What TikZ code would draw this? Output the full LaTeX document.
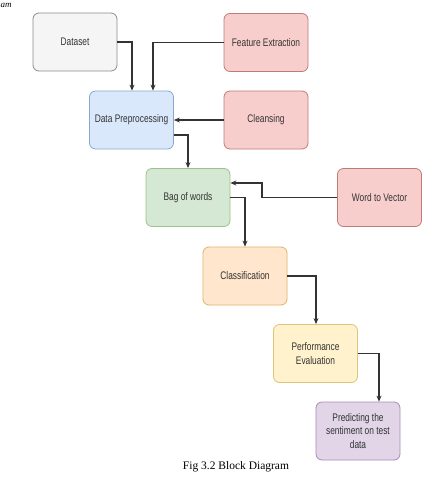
\documentclass[tikz,border=0pt]{standalone}
\usepackage{fontspec}
\setmainfont{Liberation Serif}
\newfontfamily\boxfont[FakeStretch=0.76]{Liberation Sans}
\usetikzlibrary{arrows.meta}
\definecolor{txt}{HTML}{333333}
\definecolor{grayF}{HTML}{F5F5F5}\definecolor{grayD}{HTML}{8C8C8C}
\definecolor{redF}{HTML}{F8CECC}\definecolor{redD}{HTML}{C07A77}
\definecolor{blueF}{HTML}{DAE8FC}\definecolor{blueD}{HTML}{8AA6CF}
\definecolor{greenF}{HTML}{D5E8D4}\definecolor{greenD}{HTML}{9CC28A}
\definecolor{orangeF}{HTML}{FFE6CC}\definecolor{orangeD}{HTML}{E0B466}
\definecolor{yellowF}{HTML}{FFF2CC}\definecolor{yellowD}{HTML}{DCC47A}
\definecolor{purpleF}{HTML}{E1D5E7}\definecolor{purpleD}{HTML}{A98BB8}
\tikzset{
  blk/.style={draw, line width=0.8pt, rounded corners=6pt, minimum width=84pt, minimum height=58pt,
    align=center, inner sep=0pt, text=txt,
    font=\boxfont\fontsize{11}{13.5}\selectfont},
  gbox/.style={blk, fill=grayF, draw=grayD},
  rbox/.style={blk, fill=redF, draw=redD},
  bbox/.style={blk, fill=blueF, draw=blueD},
  gnbox/.style={blk, fill=greenF, draw=greenD},
  obox/.style={blk, fill=orangeF, draw=orangeD},
  ybox/.style={blk, fill=yellowF, draw=yellowD},
  pbox/.style={blk, fill=purpleF, draw=purpleD},
  arr/.style={draw=black!80, line width=1.1pt, -{Stealth[length=6pt,width=5pt]}}
}
\begin{document}
\begin{tikzpicture}[x=1pt,y=-1pt]
\useasboundingbox (0,0) rectangle (442,480);
\fill[white] (0,0) rectangle (442,480);
\node[anchor=base west, font=\itshape\fontsize{9}{11}\selectfont, inner sep=0pt] (tl) at (0.5,7) {am};
\node[gbox] (ds) at (75,42) {Dataset};
\node[rbox] (fe) at (266,42.5) {Feature Extraction};
\node[bbox] (dp) at (131.5,120) {Data Preprocessing};
\node[rbox] (cl) at (266,120) {Cleansing};
\node[gnbox] (bag) at (188,197.5) {Bag of words};
\node[rbox] (wv) at (379.5,197.5) {Word to Vector};
\node[obox] (cls) at (245,276) {Classification};
\node[ybox] (pe) at (315.5,353.5) {Performance\\Evaluation};
\node[pbox] (pr) at (358,431) {Predicting the\\sentiment on test\\data};
\node[font=\fontsize{11.5}{13}\selectfont, inner sep=0pt] (cap) at (236,467) {Fig 3.2 Block Diagram};
\coordinate (k) at (262,183);
\draw[arr] (ds.east) -| ([xshift=0.5pt]dp.north);
\draw[arr] (fe.west) -| ([xshift=21.5pt]dp.north);
\draw[arr] (cl.west) -- (dp.east);
\draw[arr] ([yshift=-15pt]dp.east) -| (bag.north);
\draw[arr] (wv.west) -| (k) -- (k -| bag.east);
\draw[arr] (bag.east) -| (cls.north);
\draw[arr] (cls.east) -| ([xshift=0.5pt]pe.north);
\draw[arr] (pe.east) -| ([xshift=21pt]pr.north);
\end{tikzpicture}
\end{document}
